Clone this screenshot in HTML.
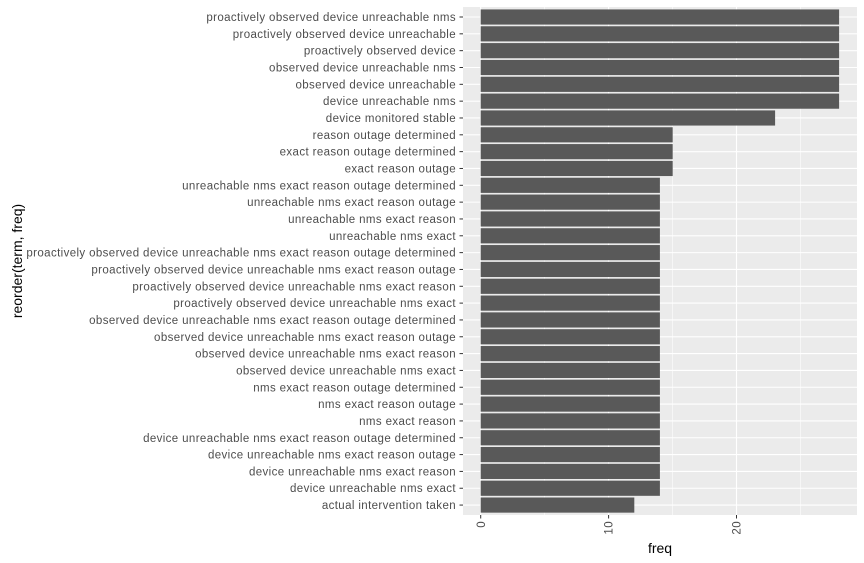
<!DOCTYPE html>
<html><head><meta charset="utf-8"><style>
html,body{margin:0;padding:0;background:#fff;}
svg{display:block;font-family:"Liberation Sans",Arial,sans-serif;}
.l{font-size:11.5px;letter-spacing:0.38px;fill:#4d4d4d;text-anchor:end;}
</style></head><body>
<svg width="864" height="563" viewBox="0 0 864 563" xmlns="http://www.w3.org/2000/svg">
<rect x="463" y="7" width="394" height="508" fill="#ebebeb"/>
<g stroke="#fff" stroke-width="0.55">
<line x1="544.7" y1="7" x2="544.7" y2="515"/><line x1="672.6" y1="7" x2="672.6" y2="515"/><line x1="800.5" y1="7" x2="800.5" y2="515"/>
</g>
<g stroke="#fff" stroke-width="1.1">
<line x1="480.7" y1="7" x2="480.7" y2="515"/><line x1="608.6" y1="7" x2="608.6" y2="515"/><line x1="736.5" y1="7" x2="736.5" y2="515"/>
</g>
<g id="rows">
<g transform="translate(0,17)"><line x1="463" x2="857" stroke="#fff" stroke-width="1.1"/><rect x="480.7" y="-7.57" width="358.4" height="15.15" fill="#595959"/><line x1="459.5" x2="463" stroke="#333"/><text class="l" x="456" y="4">proactively observed device unreachable nms</text></g>
<g transform="translate(0,33.83)"><line x1="463" x2="857" stroke="#fff" stroke-width="1.1"/><rect x="480.7" y="-7.57" width="358.4" height="15.15" fill="#595959"/><line x1="459.5" x2="463" stroke="#333"/><text class="l" x="456" y="4">proactively observed device unreachable</text></g>
<g transform="translate(0,50.66)"><line x1="463" x2="857" stroke="#fff" stroke-width="1.1"/><rect x="480.7" y="-7.57" width="358.4" height="15.15" fill="#595959"/><line x1="459.5" x2="463" stroke="#333"/><text class="l" x="456" y="4">proactively observed device</text></g>
<g transform="translate(0,67.49)"><line x1="463" x2="857" stroke="#fff" stroke-width="1.1"/><rect x="480.7" y="-7.57" width="358.4" height="15.15" fill="#595959"/><line x1="459.5" x2="463" stroke="#333"/><text class="l" x="456" y="4">observed device unreachable nms</text></g>
<g transform="translate(0,84.32)"><line x1="463" x2="857" stroke="#fff" stroke-width="1.1"/><rect x="480.7" y="-7.57" width="358.4" height="15.15" fill="#595959"/><line x1="459.5" x2="463" stroke="#333"/><text class="l" x="456" y="4">observed device unreachable</text></g>
<g transform="translate(0,101.15)"><line x1="463" x2="857" stroke="#fff" stroke-width="1.1"/><rect x="480.7" y="-7.57" width="358.4" height="15.15" fill="#595959"/><line x1="459.5" x2="463" stroke="#333"/><text class="l" x="456" y="4">device unreachable nms</text></g>
<g transform="translate(0,117.98)"><line x1="463" x2="857" stroke="#fff" stroke-width="1.1"/><rect x="480.7" y="-7.57" width="294.4" height="15.15" fill="#595959"/><line x1="459.5" x2="463" stroke="#333"/><text class="l" x="456" y="4">device monitored stable</text></g>
<g transform="translate(0,134.81)"><line x1="463" x2="857" stroke="#fff" stroke-width="1.1"/><rect x="480.7" y="-7.57" width="192" height="15.15" fill="#595959"/><line x1="459.5" x2="463" stroke="#333"/><text class="l" x="456" y="4">reason outage determined</text></g>
<g transform="translate(0,151.64)"><line x1="463" x2="857" stroke="#fff" stroke-width="1.1"/><rect x="480.7" y="-7.57" width="192" height="15.15" fill="#595959"/><line x1="459.5" x2="463" stroke="#333"/><text class="l" x="456" y="4">exact reason outage determined</text></g>
<g transform="translate(0,168.47)"><line x1="463" x2="857" stroke="#fff" stroke-width="1.1"/><rect x="480.7" y="-7.57" width="192" height="15.15" fill="#595959"/><line x1="459.5" x2="463" stroke="#333"/><text class="l" x="456" y="4">exact reason outage</text></g>
<g transform="translate(0,185.3)"><line x1="463" x2="857" stroke="#fff" stroke-width="1.1"/><rect x="480.7" y="-7.57" width="179.2" height="15.15" fill="#595959"/><line x1="459.5" x2="463" stroke="#333"/><text class="l" x="456" y="4">unreachable nms exact reason outage determined</text></g>
<g transform="translate(0,202.13)"><line x1="463" x2="857" stroke="#fff" stroke-width="1.1"/><rect x="480.7" y="-7.57" width="179.2" height="15.15" fill="#595959"/><line x1="459.5" x2="463" stroke="#333"/><text class="l" x="456" y="4">unreachable nms exact reason outage</text></g>
<g transform="translate(0,218.96)"><line x1="463" x2="857" stroke="#fff" stroke-width="1.1"/><rect x="480.7" y="-7.57" width="179.2" height="15.15" fill="#595959"/><line x1="459.5" x2="463" stroke="#333"/><text class="l" x="456" y="4">unreachable nms exact reason</text></g>
<g transform="translate(0,235.79)"><line x1="463" x2="857" stroke="#fff" stroke-width="1.1"/><rect x="480.7" y="-7.57" width="179.2" height="15.15" fill="#595959"/><line x1="459.5" x2="463" stroke="#333"/><text class="l" x="456" y="4">unreachable nms exact</text></g>
<g transform="translate(0,252.62)"><line x1="463" x2="857" stroke="#fff" stroke-width="1.1"/><rect x="480.7" y="-7.57" width="179.2" height="15.15" fill="#595959"/><line x1="459.5" x2="463" stroke="#333"/><text class="l" x="456" y="4">proactively observed device unreachable nms exact reason outage determined</text></g>
<g transform="translate(0,269.45)"><line x1="463" x2="857" stroke="#fff" stroke-width="1.1"/><rect x="480.7" y="-7.57" width="179.2" height="15.15" fill="#595959"/><line x1="459.5" x2="463" stroke="#333"/><text class="l" x="456" y="4">proactively observed device unreachable nms exact reason outage</text></g>
<g transform="translate(0,286.28)"><line x1="463" x2="857" stroke="#fff" stroke-width="1.1"/><rect x="480.7" y="-7.57" width="179.2" height="15.15" fill="#595959"/><line x1="459.5" x2="463" stroke="#333"/><text class="l" x="456" y="4">proactively observed device unreachable nms exact reason</text></g>
<g transform="translate(0,303.11)"><line x1="463" x2="857" stroke="#fff" stroke-width="1.1"/><rect x="480.7" y="-7.57" width="179.2" height="15.15" fill="#595959"/><line x1="459.5" x2="463" stroke="#333"/><text class="l" x="456" y="4">proactively observed device unreachable nms exact</text></g>
<g transform="translate(0,319.94)"><line x1="463" x2="857" stroke="#fff" stroke-width="1.1"/><rect x="480.7" y="-7.57" width="179.2" height="15.15" fill="#595959"/><line x1="459.5" x2="463" stroke="#333"/><text class="l" x="456" y="4">observed device unreachable nms exact reason outage determined</text></g>
<g transform="translate(0,336.77)"><line x1="463" x2="857" stroke="#fff" stroke-width="1.1"/><rect x="480.7" y="-7.57" width="179.2" height="15.15" fill="#595959"/><line x1="459.5" x2="463" stroke="#333"/><text class="l" x="456" y="4">observed device unreachable nms exact reason outage</text></g>
<g transform="translate(0,353.6)"><line x1="463" x2="857" stroke="#fff" stroke-width="1.1"/><rect x="480.7" y="-7.57" width="179.2" height="15.15" fill="#595959"/><line x1="459.5" x2="463" stroke="#333"/><text class="l" x="456" y="4">observed device unreachable nms exact reason</text></g>
<g transform="translate(0,370.43)"><line x1="463" x2="857" stroke="#fff" stroke-width="1.1"/><rect x="480.7" y="-7.57" width="179.2" height="15.15" fill="#595959"/><line x1="459.5" x2="463" stroke="#333"/><text class="l" x="456" y="4">observed device unreachable nms exact</text></g>
<g transform="translate(0,387.26)"><line x1="463" x2="857" stroke="#fff" stroke-width="1.1"/><rect x="480.7" y="-7.57" width="179.2" height="15.15" fill="#595959"/><line x1="459.5" x2="463" stroke="#333"/><text class="l" x="456" y="4">nms exact reason outage determined</text></g>
<g transform="translate(0,404.09)"><line x1="463" x2="857" stroke="#fff" stroke-width="1.1"/><rect x="480.7" y="-7.57" width="179.2" height="15.15" fill="#595959"/><line x1="459.5" x2="463" stroke="#333"/><text class="l" x="456" y="4">nms exact reason outage</text></g>
<g transform="translate(0,420.92)"><line x1="463" x2="857" stroke="#fff" stroke-width="1.1"/><rect x="480.7" y="-7.57" width="179.2" height="15.15" fill="#595959"/><line x1="459.5" x2="463" stroke="#333"/><text class="l" x="456" y="4">nms exact reason</text></g>
<g transform="translate(0,437.75)"><line x1="463" x2="857" stroke="#fff" stroke-width="1.1"/><rect x="480.7" y="-7.57" width="179.2" height="15.15" fill="#595959"/><line x1="459.5" x2="463" stroke="#333"/><text class="l" x="456" y="4">device unreachable nms exact reason outage determined</text></g>
<g transform="translate(0,454.58)"><line x1="463" x2="857" stroke="#fff" stroke-width="1.1"/><rect x="480.7" y="-7.57" width="179.2" height="15.15" fill="#595959"/><line x1="459.5" x2="463" stroke="#333"/><text class="l" x="456" y="4">device unreachable nms exact reason outage</text></g>
<g transform="translate(0,471.41)"><line x1="463" x2="857" stroke="#fff" stroke-width="1.1"/><rect x="480.7" y="-7.57" width="179.2" height="15.15" fill="#595959"/><line x1="459.5" x2="463" stroke="#333"/><text class="l" x="456" y="4">device unreachable nms exact reason</text></g>
<g transform="translate(0,488.24)"><line x1="463" x2="857" stroke="#fff" stroke-width="1.1"/><rect x="480.7" y="-7.57" width="179.2" height="15.15" fill="#595959"/><line x1="459.5" x2="463" stroke="#333"/><text class="l" x="456" y="4">device unreachable nms exact</text></g>
<g transform="translate(0,505.07)"><line x1="463" x2="857" stroke="#fff" stroke-width="1.1"/><rect x="480.7" y="-7.57" width="153.6" height="15.15" fill="#595959"/><line x1="459.5" x2="463" stroke="#333"/><text class="l" x="456" y="4">actual intervention taken</text></g>
</g>
<g stroke="#333"><line x1="480.7" y1="515" x2="480.7" y2="518.5"/><line x1="608.6" y1="515" x2="608.6" y2="518.5"/><line x1="736.5" y1="515" x2="736.5" y2="518.5"/></g>
<g font-size="11.5" letter-spacing="0.38" fill="#4d4d4d">
<text transform="translate(484.8,521) rotate(-90)" text-anchor="end">0</text>
<text transform="translate(612.7,521) rotate(-90)" text-anchor="end">10</text>
<text transform="translate(740.6,521) rotate(-90)" text-anchor="end">20</text>
</g>
<text x="660" y="553" font-size="14" fill="#000" text-anchor="middle">freq</text>
<text transform="translate(22,261) rotate(-90)" font-size="14" fill="#000" text-anchor="middle">reorder(term, freq)</text>
</svg>
</body></html>
